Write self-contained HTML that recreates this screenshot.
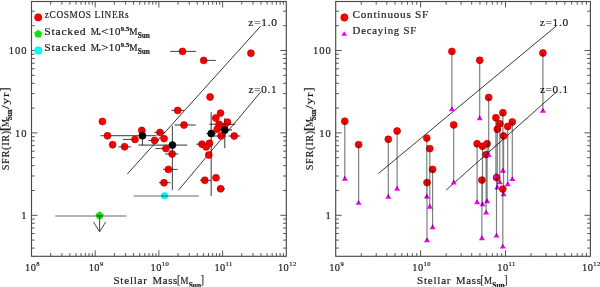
<!DOCTYPE html>
<html><head><meta charset="utf-8"><style>
html,body{margin:0;padding:0;background:#fff;}
body{width:600px;height:287px;overflow:hidden;}
svg{display:block;will-change:transform;}
text{font-family:"Liberation Serif",serif;}
</style></head><body>
<svg width="600" height="287" viewBox="0 0 600 287">
<rect width="600" height="287" fill="#fff"/>
<rect x="31.5" y="1.5" width="254.80" height="254.80" fill="none" stroke="#4a4a4a" stroke-width="1.15"/>
<path d="M50.68 256.3v-3.2M50.68 1.5v3.2M61.89 256.3v-3.2M61.89 1.5v3.2M69.85 256.3v-3.2M69.85 1.5v3.2M76.02 256.3v-3.2M76.02 1.5v3.2M81.07 256.3v-3.2M81.07 1.5v3.2M85.33 256.3v-3.2M85.33 1.5v3.2M89.03 256.3v-3.2M89.03 1.5v3.2M92.29 256.3v-3.2M92.29 1.5v3.2M95.20 256.3v-6M95.20 1.5v6M114.38 256.3v-3.2M114.38 1.5v3.2M125.59 256.3v-3.2M125.59 1.5v3.2M133.55 256.3v-3.2M133.55 1.5v3.2M139.72 256.3v-3.2M139.72 1.5v3.2M144.77 256.3v-3.2M144.77 1.5v3.2M149.03 256.3v-3.2M149.03 1.5v3.2M152.73 256.3v-3.2M152.73 1.5v3.2M155.99 256.3v-3.2M155.99 1.5v3.2M158.90 256.3v-6M158.90 1.5v6M178.08 256.3v-3.2M178.08 1.5v3.2M189.29 256.3v-3.2M189.29 1.5v3.2M197.25 256.3v-3.2M197.25 1.5v3.2M203.42 256.3v-3.2M203.42 1.5v3.2M208.47 256.3v-3.2M208.47 1.5v3.2M212.73 256.3v-3.2M212.73 1.5v3.2M216.43 256.3v-3.2M216.43 1.5v3.2M219.69 256.3v-3.2M219.69 1.5v3.2M222.60 256.3v-6M222.60 1.5v6M241.78 256.3v-3.2M241.78 1.5v3.2M252.99 256.3v-3.2M252.99 1.5v3.2M260.95 256.3v-3.2M260.95 1.5v3.2M267.12 256.3v-3.2M267.12 1.5v3.2M272.17 256.3v-3.2M272.17 1.5v3.2M276.43 256.3v-3.2M276.43 1.5v3.2M280.13 256.3v-3.2M280.13 1.5v3.2M283.39 256.3v-3.2M283.39 1.5v3.2M31.5 248.09h3.2M286.3 248.09h-3.2M31.5 240.10h3.2M286.3 240.10h-3.2M31.5 233.58h3.2M286.3 233.58h-3.2M31.5 228.06h3.2M286.3 228.06h-3.2M31.5 223.29h3.2M286.3 223.29h-3.2M31.5 219.07h3.2M286.3 219.07h-3.2M31.5 215.30h6M286.3 215.30h-6M31.5 190.50h3.2M286.3 190.50h-3.2M31.5 175.99h3.2M286.3 175.99h-3.2M31.5 165.69h3.2M286.3 165.69h-3.2M31.5 157.70h3.2M286.3 157.70h-3.2M31.5 151.18h3.2M286.3 151.18h-3.2M31.5 145.66h3.2M286.3 145.66h-3.2M31.5 140.89h3.2M286.3 140.89h-3.2M31.5 136.67h3.2M286.3 136.67h-3.2M31.5 132.90h6M286.3 132.90h-6M31.5 108.10h3.2M286.3 108.10h-3.2M31.5 93.59h3.2M286.3 93.59h-3.2M31.5 83.29h3.2M286.3 83.29h-3.2M31.5 75.30h3.2M286.3 75.30h-3.2M31.5 68.78h3.2M286.3 68.78h-3.2M31.5 63.26h3.2M286.3 63.26h-3.2M31.5 58.49h3.2M286.3 58.49h-3.2M31.5 54.27h3.2M286.3 54.27h-3.2M31.5 50.50h6M286.3 50.50h-6M31.5 25.70h3.2M286.3 25.70h-3.2M31.5 11.19h3.2M286.3 11.19h-3.2" stroke="#444" stroke-width="0.9" fill="none"/>
<rect x="335.7" y="1.5" width="254.70" height="254.80" fill="none" stroke="#4a4a4a" stroke-width="1.15"/>
<path d="M361.26 256.3v-3.2M361.26 1.5v3.2M376.21 256.3v-3.2M376.21 1.5v3.2M386.81 256.3v-3.2M386.81 1.5v3.2M395.04 256.3v-3.2M395.04 1.5v3.2M401.77 256.3v-3.2M401.77 1.5v3.2M407.45 256.3v-3.2M407.45 1.5v3.2M412.37 256.3v-3.2M412.37 1.5v3.2M416.72 256.3v-3.2M416.72 1.5v3.2M420.60 256.3v-6M420.60 1.5v6M446.16 256.3v-3.2M446.16 1.5v3.2M461.11 256.3v-3.2M461.11 1.5v3.2M471.71 256.3v-3.2M471.71 1.5v3.2M479.94 256.3v-3.2M479.94 1.5v3.2M486.67 256.3v-3.2M486.67 1.5v3.2M492.35 256.3v-3.2M492.35 1.5v3.2M497.27 256.3v-3.2M497.27 1.5v3.2M501.62 256.3v-3.2M501.62 1.5v3.2M505.50 256.3v-6M505.50 1.5v6M531.06 256.3v-3.2M531.06 1.5v3.2M546.01 256.3v-3.2M546.01 1.5v3.2M556.61 256.3v-3.2M556.61 1.5v3.2M564.84 256.3v-3.2M564.84 1.5v3.2M571.57 256.3v-3.2M571.57 1.5v3.2M577.25 256.3v-3.2M577.25 1.5v3.2M582.17 256.3v-3.2M582.17 1.5v3.2M586.52 256.3v-3.2M586.52 1.5v3.2M335.7 248.09h3.2M590.4 248.09h-3.2M335.7 240.10h3.2M590.4 240.10h-3.2M335.7 233.58h3.2M590.4 233.58h-3.2M335.7 228.06h3.2M590.4 228.06h-3.2M335.7 223.29h3.2M590.4 223.29h-3.2M335.7 219.07h3.2M590.4 219.07h-3.2M335.7 215.30h6M590.4 215.30h-6M335.7 190.50h3.2M590.4 190.50h-3.2M335.7 175.99h3.2M590.4 175.99h-3.2M335.7 165.69h3.2M590.4 165.69h-3.2M335.7 157.70h3.2M590.4 157.70h-3.2M335.7 151.18h3.2M590.4 151.18h-3.2M335.7 145.66h3.2M590.4 145.66h-3.2M335.7 140.89h3.2M590.4 140.89h-3.2M335.7 136.67h3.2M590.4 136.67h-3.2M335.7 132.90h6M590.4 132.90h-6M335.7 108.10h3.2M590.4 108.10h-3.2M335.7 93.59h3.2M590.4 93.59h-3.2M335.7 83.29h3.2M590.4 83.29h-3.2M335.7 75.30h3.2M590.4 75.30h-3.2M335.7 68.78h3.2M590.4 68.78h-3.2M335.7 63.26h3.2M590.4 63.26h-3.2M335.7 58.49h3.2M590.4 58.49h-3.2M335.7 54.27h3.2M590.4 54.27h-3.2M335.7 50.50h6M590.4 50.50h-6M335.7 25.70h3.2M590.4 25.70h-3.2M335.7 11.19h3.2M590.4 11.19h-3.2" stroke="#444" stroke-width="0.9" fill="none"/>
<text x="27.4" y="54.1" font-size="10.5" text-anchor="end" font-family="Liberation Serif" fill="#1a1a1a" stroke="#1a1a1a" stroke-width="0.18" letter-spacing="0.95">100</text>
<text x="27.4" y="136.5" font-size="10.5" text-anchor="end" font-family="Liberation Serif" fill="#1a1a1a" stroke="#1a1a1a" stroke-width="0.18" letter-spacing="0.95">10</text>
<text x="27.4" y="218.9" font-size="10.5" text-anchor="end" font-family="Liberation Serif" fill="#1a1a1a" stroke="#1a1a1a" stroke-width="0.18" letter-spacing="0.95">1</text>
<text x="331.59999999999997" y="54.1" font-size="10.5" text-anchor="end" font-family="Liberation Serif" fill="#1a1a1a" stroke="#1a1a1a" stroke-width="0.18" letter-spacing="0.95">100</text>
<text x="331.59999999999997" y="136.5" font-size="10.5" text-anchor="end" font-family="Liberation Serif" fill="#1a1a1a" stroke="#1a1a1a" stroke-width="0.18" letter-spacing="0.95">10</text>
<text x="331.59999999999997" y="218.9" font-size="10.5" text-anchor="end" font-family="Liberation Serif" fill="#1a1a1a" stroke="#1a1a1a" stroke-width="0.18" letter-spacing="0.95">1</text>
<text x="32.50" y="270.7" font-size="10.4" font-family="Liberation Serif" fill="#1a1a1a" stroke="#1a1a1a" stroke-width="0.18" text-anchor="middle" letter-spacing="0.4">10<tspan font-size="6.6" dy="-5">8</tspan></text>
<text x="96.20" y="270.7" font-size="10.4" font-family="Liberation Serif" fill="#1a1a1a" stroke="#1a1a1a" stroke-width="0.18" text-anchor="middle" letter-spacing="0.4">10<tspan font-size="6.6" dy="-5">9</tspan></text>
<text x="159.90" y="270.7" font-size="10.4" font-family="Liberation Serif" fill="#1a1a1a" stroke="#1a1a1a" stroke-width="0.18" text-anchor="middle" letter-spacing="0.4">10<tspan font-size="6.6" dy="-5">10</tspan></text>
<text x="223.60" y="270.7" font-size="10.4" font-family="Liberation Serif" fill="#1a1a1a" stroke="#1a1a1a" stroke-width="0.18" text-anchor="middle" letter-spacing="0.4">10<tspan font-size="6.6" dy="-5">11</tspan></text>
<text x="287.30" y="270.7" font-size="10.4" font-family="Liberation Serif" fill="#1a1a1a" stroke="#1a1a1a" stroke-width="0.18" text-anchor="middle" letter-spacing="0.4">10<tspan font-size="6.6" dy="-5">12</tspan></text>
<text x="336.70" y="270.7" font-size="10.4" font-family="Liberation Serif" fill="#1a1a1a" stroke="#1a1a1a" stroke-width="0.18" text-anchor="middle" letter-spacing="0.4">10<tspan font-size="6.6" dy="-5">9</tspan></text>
<text x="421.60" y="270.7" font-size="10.4" font-family="Liberation Serif" fill="#1a1a1a" stroke="#1a1a1a" stroke-width="0.18" text-anchor="middle" letter-spacing="0.4">10<tspan font-size="6.6" dy="-5">10</tspan></text>
<text x="506.50" y="270.7" font-size="10.4" font-family="Liberation Serif" fill="#1a1a1a" stroke="#1a1a1a" stroke-width="0.18" text-anchor="middle" letter-spacing="0.4">10<tspan font-size="6.6" dy="-5">11</tspan></text>
<text x="591.40" y="270.7" font-size="10.4" font-family="Liberation Serif" fill="#1a1a1a" stroke="#1a1a1a" stroke-width="0.18" text-anchor="middle" letter-spacing="0.4">10<tspan font-size="6.6" dy="-5">12</tspan></text>
<text x="113.45" y="283.60" font-size="10.3" font-family="Liberation Serif" fill="#1a1a1a" stroke="#1a1a1a" stroke-width="0.18" letter-spacing="0.7" textLength="34.28" lengthAdjust="spacingAndGlyphs">Stellar</text>
<text x="152.44" y="283.60" font-size="10.3" font-family="Liberation Serif" fill="#1a1a1a" stroke="#1a1a1a" stroke-width="0.18" letter-spacing="0.7" textLength="25.59" lengthAdjust="spacingAndGlyphs">Mass</text>
<text x="176.97" y="284.40" font-size="12.5" font-family="Liberation Serif" fill="#1a1a1a" stroke="#1a1a1a" stroke-width="0.18" textLength="3.34" lengthAdjust="spacingAndGlyphs">[</text>
<text x="180.49" y="283.60" font-size="10.3" font-family="Liberation Serif" fill="#1a1a1a" stroke="#1a1a1a" stroke-width="0.18" textLength="8.0" lengthAdjust="spacingAndGlyphs">M</text>
<text x="188.75" y="287.60" font-size="7.2" font-family="Liberation Sans" font-weight="bold" fill="#1a1a1a" stroke="#1a1a1a" stroke-width="0.18" textLength="12.37" lengthAdjust="spacingAndGlyphs">Sun</text>
<text x="200.75" y="284.40" font-size="12.5" font-family="Liberation Serif" fill="#1a1a1a" stroke="#1a1a1a" stroke-width="0.18" textLength="3.24" lengthAdjust="spacingAndGlyphs">]</text>
<text x="417.05" y="283.60" font-size="10.3" font-family="Liberation Serif" fill="#1a1a1a" stroke="#1a1a1a" stroke-width="0.18" letter-spacing="0.7" textLength="34.28" lengthAdjust="spacingAndGlyphs">Stellar</text>
<text x="456.04" y="283.60" font-size="10.3" font-family="Liberation Serif" fill="#1a1a1a" stroke="#1a1a1a" stroke-width="0.18" letter-spacing="0.7" textLength="25.59" lengthAdjust="spacingAndGlyphs">Mass</text>
<text x="480.57" y="284.40" font-size="12.5" font-family="Liberation Serif" fill="#1a1a1a" stroke="#1a1a1a" stroke-width="0.18" textLength="3.34" lengthAdjust="spacingAndGlyphs">[</text>
<text x="484.09" y="283.60" font-size="10.3" font-family="Liberation Serif" fill="#1a1a1a" stroke="#1a1a1a" stroke-width="0.18" textLength="8.0" lengthAdjust="spacingAndGlyphs">M</text>
<text x="492.35" y="287.60" font-size="7.2" font-family="Liberation Sans" font-weight="bold" fill="#1a1a1a" stroke="#1a1a1a" stroke-width="0.18" textLength="12.37" lengthAdjust="spacingAndGlyphs">Sun</text>
<text x="504.35" y="284.40" font-size="12.5" font-family="Liberation Serif" fill="#1a1a1a" stroke="#1a1a1a" stroke-width="0.18" textLength="3.24" lengthAdjust="spacingAndGlyphs">]</text>
<g transform="translate(9.0,0) rotate(-90)">
<text x="-170.32" y="0.00" font-size="10.8" font-family="Liberation Serif" fill="#1a1a1a" stroke="#1a1a1a" stroke-width="0.18" letter-spacing="0.7" textLength="40.26" lengthAdjust="spacingAndGlyphs">SFR(IR)</text>
<text x="-131.30" y="0.00" font-size="11.5" font-family="Liberation Serif" fill="#1a1a1a" stroke="#1a1a1a" stroke-width="0.18" textLength="5.23" lengthAdjust="spacingAndGlyphs">[</text>
<text x="-127.12" y="0.00" font-size="10.8" font-family="Liberation Serif" fill="#1a1a1a" stroke="#1a1a1a" stroke-width="0.18" textLength="8.05" lengthAdjust="spacingAndGlyphs">M</text>
<text x="-120.30" y="2.50" font-size="7.2" font-family="Liberation Sans" font-weight="bold" fill="#1a1a1a" stroke="#1a1a1a" stroke-width="0.18" textLength="11.09" lengthAdjust="spacingAndGlyphs">Sun</text>
<text x="-109.08" y="0.00" font-size="10.8" font-family="Liberation Serif" fill="#1a1a1a" stroke="#1a1a1a" stroke-width="0.18" letter-spacing="0.7" textLength="17.42" lengthAdjust="spacingAndGlyphs">/yr</text>
<text x="-91.74" y="0.00" font-size="11.5" font-family="Liberation Serif" fill="#1a1a1a" stroke="#1a1a1a" stroke-width="0.18" textLength="4.51" lengthAdjust="spacingAndGlyphs">]</text>
</g>
<g transform="translate(313.0,0) rotate(-90)">
<text x="-170.32" y="0.00" font-size="10.8" font-family="Liberation Serif" fill="#1a1a1a" stroke="#1a1a1a" stroke-width="0.18" letter-spacing="0.7" textLength="40.26" lengthAdjust="spacingAndGlyphs">SFR(IR)</text>
<text x="-131.30" y="0.00" font-size="11.5" font-family="Liberation Serif" fill="#1a1a1a" stroke="#1a1a1a" stroke-width="0.18" textLength="5.23" lengthAdjust="spacingAndGlyphs">[</text>
<text x="-127.12" y="0.00" font-size="10.8" font-family="Liberation Serif" fill="#1a1a1a" stroke="#1a1a1a" stroke-width="0.18" textLength="8.05" lengthAdjust="spacingAndGlyphs">M</text>
<text x="-120.30" y="2.50" font-size="7.2" font-family="Liberation Sans" font-weight="bold" fill="#1a1a1a" stroke="#1a1a1a" stroke-width="0.18" textLength="11.09" lengthAdjust="spacingAndGlyphs">Sun</text>
<text x="-109.08" y="0.00" font-size="10.8" font-family="Liberation Serif" fill="#1a1a1a" stroke="#1a1a1a" stroke-width="0.18" letter-spacing="0.7" textLength="17.42" lengthAdjust="spacingAndGlyphs">/yr</text>
<text x="-91.74" y="0.00" font-size="11.5" font-family="Liberation Serif" fill="#1a1a1a" stroke="#1a1a1a" stroke-width="0.18" textLength="4.51" lengthAdjust="spacingAndGlyphs">]</text>
</g>
<text x="248.35" y="25.90" font-size="10.8" font-family="Liberation Serif" fill="#1a1a1a" stroke="#1a1a1a" stroke-width="0.18" letter-spacing="0.7" textLength="29.38" lengthAdjust="spacingAndGlyphs">z=1.0</text>
<text x="248.60" y="92.50" font-size="10.8" font-family="Liberation Serif" fill="#1a1a1a" stroke="#1a1a1a" stroke-width="0.18" letter-spacing="0.7" textLength="28.84" lengthAdjust="spacingAndGlyphs">z=0.1</text>
<text x="539.65" y="25.90" font-size="10.8" font-family="Liberation Serif" fill="#1a1a1a" stroke="#1a1a1a" stroke-width="0.18" letter-spacing="0.7" textLength="29.38" lengthAdjust="spacingAndGlyphs">z=1.0</text>
<text x="539.90" y="92.50" font-size="10.8" font-family="Liberation Serif" fill="#1a1a1a" stroke="#1a1a1a" stroke-width="0.18" letter-spacing="0.7" textLength="28.84" lengthAdjust="spacingAndGlyphs">z=0.1</text>
<path d="M127.3 174L260.7 26.1M178.4 190.3L261.1 91.5M378.3 173.6L556.5 25.8M446.2 190L556.4 92" stroke="#222" stroke-width="0.9" fill="none"/>
<path d="M170.3 51.4H196.1M201.5 60.4H215.8M171.4 110.4H184M174.6 125H195.7M118.5 146.8H130.9M122.9 139.4H137.5M148.4 140.5H158.8M154.4 132.4H164.9M155.4 148.6H168M165.4 154.0H178.3M163 169.4H177.5M159 182.7H170.6M209.5 124.3H235.2M212.3 136.0H226M228.4 136.0H240.4M196.2 144.2H206M200 180.3H211M217 188.8H225M100.6 135.7H156.5M142.4 127.5V145.2M138.4 145.1H187.2M172.4 125.9V189.8M206.5 133.5H215.8M211.2 112.2V196.0M218 130.0H232M224.8 118.0V148.2" stroke="rgba(0,0,0,0.63)" stroke-width="1" fill="none"/>
<circle cx="182.5" cy="51.4" r="3.45" fill="#ff0000" stroke="#b00000" stroke-width="0.65"/>
<circle cx="203.7" cy="60.4" r="3.45" fill="#ff0000" stroke="#b00000" stroke-width="0.65"/>
<circle cx="250.9" cy="53.2" r="3.45" fill="#ff0000" stroke="#b00000" stroke-width="0.65"/>
<circle cx="102.4" cy="121.5" r="3.45" fill="#ff0000" stroke="#b00000" stroke-width="0.65"/>
<circle cx="177.7" cy="110.4" r="3.45" fill="#ff0000" stroke="#b00000" stroke-width="0.65"/>
<circle cx="184" cy="125" r="3.45" fill="#ff0000" stroke="#b00000" stroke-width="0.65"/>
<circle cx="107.5" cy="135.8" r="3.45" fill="#ff0000" stroke="#b00000" stroke-width="0.65"/>
<circle cx="112.6" cy="144.7" r="3.45" fill="#ff0000" stroke="#b00000" stroke-width="0.65"/>
<circle cx="124.6" cy="146.8" r="3.45" fill="#ff0000" stroke="#b00000" stroke-width="0.65"/>
<circle cx="135" cy="139.4" r="3.45" fill="#ff0000" stroke="#b00000" stroke-width="0.65"/>
<circle cx="141.8" cy="130.4" r="3.45" fill="#ff0000" stroke="#b00000" stroke-width="0.65"/>
<circle cx="154.6" cy="140.5" r="3.45" fill="#ff0000" stroke="#b00000" stroke-width="0.65"/>
<circle cx="160" cy="132.4" r="3.45" fill="#ff0000" stroke="#b00000" stroke-width="0.65"/>
<circle cx="164.1" cy="138.6" r="3.45" fill="#ff0000" stroke="#b00000" stroke-width="0.65"/>
<circle cx="165.9" cy="148.6" r="3.45" fill="#ff0000" stroke="#b00000" stroke-width="0.65"/>
<circle cx="172.1" cy="154.0" r="3.45" fill="#ff0000" stroke="#b00000" stroke-width="0.65"/>
<circle cx="168.4" cy="169.4" r="3.45" fill="#ff0000" stroke="#b00000" stroke-width="0.65"/>
<circle cx="164" cy="182.7" r="3.45" fill="#ff0000" stroke="#b00000" stroke-width="0.65"/>
<circle cx="210.1" cy="97" r="3.45" fill="#ff0000" stroke="#b00000" stroke-width="0.65"/>
<circle cx="220.5" cy="113.1" r="3.45" fill="#ff0000" stroke="#b00000" stroke-width="0.65"/>
<circle cx="215.8" cy="118" r="3.45" fill="#ff0000" stroke="#b00000" stroke-width="0.65"/>
<circle cx="227.5" cy="122.2" r="3.45" fill="#ff0000" stroke="#b00000" stroke-width="0.65"/>
<circle cx="224.3" cy="126.5" r="3.45" fill="#ff0000" stroke="#b00000" stroke-width="0.65"/>
<circle cx="219" cy="124.3" r="3.45" fill="#ff0000" stroke="#b00000" stroke-width="0.65"/>
<circle cx="217.2" cy="129.3" r="3.45" fill="#ff0000" stroke="#b00000" stroke-width="0.65"/>
<circle cx="221.1" cy="136.0" r="3.45" fill="#ff0000" stroke="#b00000" stroke-width="0.65"/>
<circle cx="234.2" cy="136.0" r="3.45" fill="#ff0000" stroke="#b00000" stroke-width="0.65"/>
<circle cx="202" cy="144.2" r="3.45" fill="#ff0000" stroke="#b00000" stroke-width="0.65"/>
<circle cx="209.5" cy="143.3" r="3.45" fill="#ff0000" stroke="#b00000" stroke-width="0.65"/>
<circle cx="206.2" cy="146.9" r="3.45" fill="#ff0000" stroke="#b00000" stroke-width="0.65"/>
<circle cx="208.8" cy="155" r="3.45" fill="#ff0000" stroke="#b00000" stroke-width="0.65"/>
<circle cx="204.8" cy="180.3" r="3.45" fill="#ff0000" stroke="#b00000" stroke-width="0.65"/>
<circle cx="216" cy="177.8" r="3.45" fill="#ff0000" stroke="#b00000" stroke-width="0.65"/>
<circle cx="220.6" cy="188.8" r="3.45" fill="#ff0000" stroke="#b00000" stroke-width="0.65"/>
<path d="M170.3 51.4H196.1M201.5 60.4H215.8M171.4 110.4H184M174.6 125H195.7M118.5 146.8H130.9M122.9 139.4H137.5M148.4 140.5H158.8M154.4 132.4H164.9M155.4 148.6H168M165.4 154.0H178.3M163 169.4H177.5M159 182.7H170.6M209.5 124.3H235.2M212.3 136.0H226M228.4 136.0H240.4M196.2 144.2H206M200 180.3H211M217 188.8H225M100.6 135.7H156.5M142.4 127.5V145.2M138.4 145.1H187.2M172.4 125.9V189.8M206.5 133.5H215.8M211.2 112.2V196.0M218 130.0H232M224.8 118.0V148.2" stroke="rgba(0,0,0,0.25)" stroke-width="1" fill="none"/>
<circle cx="142.4" cy="135.7" r="3.5" fill="#000" stroke="#000" stroke-width="0.65"/>
<circle cx="172.4" cy="145.1" r="3.5" fill="#000" stroke="#000" stroke-width="0.65"/>
<circle cx="211.2" cy="133.5" r="3.5" fill="#000" stroke="#000" stroke-width="0.65"/>
<circle cx="224.8" cy="130.0" r="3.5" fill="#000" stroke="#000" stroke-width="0.65"/>
<polygon points="99.60,211.60 103.40,214.36 101.95,218.84 97.25,218.84 95.80,214.36" fill="#11dd11" stroke="#11dd11" stroke-width="0.5"/>
<circle cx="164.55" cy="195.7" r="3.3" fill="#00ffff" stroke="#00e8e8" stroke-width="0.65"/>
<path d="M55.3 215.9H126.4M133.6 196H198.8" stroke="rgba(0,0,0,0.4)" stroke-width="1.5" fill="none"/>
<path d="M99.6 215.6V231.8M93.4 221.8L99.6 231.8L105.8 221.8" stroke="#333" stroke-width="0.9" fill="none"/>
<circle cx="38.2" cy="17.4" r="3.6" fill="#ff0000" stroke="#b00000" stroke-width="0.65"/>
<polygon points="38.20,29.90 42.00,32.66 40.55,37.14 35.85,37.14 34.40,32.66" fill="#11dd11" stroke="#11dd11" stroke-width="0.5"/>
<circle cx="38.3" cy="50.5" r="3.8" fill="#00ffff" stroke="#00e8e8" stroke-width="0.65"/>
<text x="44.86" y="18.20" font-size="10.5" font-family="Liberation Serif" fill="#1a1a1a" stroke="#1a1a1a" stroke-width="0.18" letter-spacing="0.7" textLength="84.51" lengthAdjust="spacingAndGlyphs">zCOSMOS LINERs</text>
<text x="44.29" y="34.50" font-size="10.5" font-family="Liberation Serif" fill="#1a1a1a" stroke="#1a1a1a" stroke-width="0.18" letter-spacing="0.7" textLength="42.17" lengthAdjust="spacingAndGlyphs">Stacked</text>
<text x="90.67" y="34.50" font-size="10.5" font-family="Liberation Serif" fill="#1a1a1a" stroke="#1a1a1a" stroke-width="0.18" textLength="8.35" lengthAdjust="spacingAndGlyphs">M</text>
<circle cx="99.7" cy="34.0" r="0.9" fill="#1a1a1a"/>
<text x="101.23" y="34.50" font-size="10.5" font-family="Liberation Serif" fill="#1a1a1a" stroke="#1a1a1a" stroke-width="0.18" textLength="7.33" lengthAdjust="spacingAndGlyphs">&lt;</text>
<text x="108.77" y="34.50" font-size="10.5" font-family="Liberation Serif" fill="#1a1a1a" stroke="#1a1a1a" stroke-width="0.18" letter-spacing="0.7" textLength="12.36" lengthAdjust="spacingAndGlyphs">10</text>
<text x="120.86" y="30.60" font-size="6.3" font-family="Liberation Sans" font-weight="bold" fill="#1a1a1a" stroke="#1a1a1a" stroke-width="0.18" textLength="8.43" lengthAdjust="spacingAndGlyphs">9.5</text>
<text x="129.07" y="34.50" font-size="10.5" font-family="Liberation Serif" fill="#1a1a1a" stroke="#1a1a1a" stroke-width="0.18" textLength="8.57" lengthAdjust="spacingAndGlyphs">M</text>
<text x="137.65" y="37.50" font-size="7.2" font-family="Liberation Sans" font-weight="bold" fill="#1a1a1a" stroke="#1a1a1a" stroke-width="0.18" textLength="12.18" lengthAdjust="spacingAndGlyphs">Sun</text>
<text x="44.29" y="50.50" font-size="10.5" font-family="Liberation Serif" fill="#1a1a1a" stroke="#1a1a1a" stroke-width="0.18" letter-spacing="0.7" textLength="42.17" lengthAdjust="spacingAndGlyphs">Stacked</text>
<text x="90.67" y="50.50" font-size="10.5" font-family="Liberation Serif" fill="#1a1a1a" stroke="#1a1a1a" stroke-width="0.18" textLength="8.35" lengthAdjust="spacingAndGlyphs">M</text>
<circle cx="99.7" cy="50.0" r="0.9" fill="#1a1a1a"/>
<text x="101.21" y="50.50" font-size="10.5" font-family="Liberation Serif" fill="#1a1a1a" stroke="#1a1a1a" stroke-width="0.18" textLength="7.18" lengthAdjust="spacingAndGlyphs">&gt;</text>
<text x="108.77" y="50.50" font-size="10.5" font-family="Liberation Serif" fill="#1a1a1a" stroke="#1a1a1a" stroke-width="0.18" letter-spacing="0.7" textLength="12.36" lengthAdjust="spacingAndGlyphs">10</text>
<text x="120.86" y="46.60" font-size="6.3" font-family="Liberation Sans" font-weight="bold" fill="#1a1a1a" stroke="#1a1a1a" stroke-width="0.18" textLength="8.43" lengthAdjust="spacingAndGlyphs">9.5</text>
<text x="129.07" y="50.50" font-size="10.5" font-family="Liberation Serif" fill="#1a1a1a" stroke="#1a1a1a" stroke-width="0.18" textLength="8.57" lengthAdjust="spacingAndGlyphs">M</text>
<text x="137.65" y="53.50" font-size="7.2" font-family="Liberation Sans" font-weight="bold" fill="#1a1a1a" stroke="#1a1a1a" stroke-width="0.18" textLength="12.18" lengthAdjust="spacingAndGlyphs">Sun</text>
<circle cx="344.8" cy="121.3" r="3.45" fill="#ff0000" stroke="#b00000" stroke-width="0.65"/>
<circle cx="358.6" cy="144.6" r="3.45" fill="#ff0000" stroke="#b00000" stroke-width="0.65"/>
<circle cx="388.3" cy="139.3" r="3.45" fill="#ff0000" stroke="#b00000" stroke-width="0.65"/>
<circle cx="397.1" cy="131.0" r="3.45" fill="#ff0000" stroke="#b00000" stroke-width="0.65"/>
<circle cx="426.8" cy="138.1" r="3.45" fill="#ff0000" stroke="#b00000" stroke-width="0.65"/>
<circle cx="429.8" cy="148.6" r="3.45" fill="#ff0000" stroke="#b00000" stroke-width="0.65"/>
<circle cx="432.6" cy="169.4" r="3.45" fill="#ff0000" stroke="#b00000" stroke-width="0.65"/>
<circle cx="427.0" cy="182.6" r="3.45" fill="#ff0000" stroke="#b00000" stroke-width="0.65"/>
<circle cx="451.9" cy="51.4" r="3.45" fill="#ff0000" stroke="#b00000" stroke-width="0.65"/>
<circle cx="453.7" cy="124.9" r="3.45" fill="#ff0000" stroke="#b00000" stroke-width="0.65"/>
<circle cx="479.7" cy="60.3" r="3.45" fill="#ff0000" stroke="#b00000" stroke-width="0.65"/>
<circle cx="488.7" cy="97.5" r="3.45" fill="#ff0000" stroke="#b00000" stroke-width="0.65"/>
<circle cx="542.9" cy="53.0" r="3.45" fill="#ff0000" stroke="#b00000" stroke-width="0.65"/>
<circle cx="477.1" cy="143.8" r="3.45" fill="#ff0000" stroke="#b00000" stroke-width="0.65"/>
<circle cx="482.5" cy="146.3" r="3.45" fill="#ff0000" stroke="#b00000" stroke-width="0.65"/>
<circle cx="487.1" cy="143.8" r="3.45" fill="#ff0000" stroke="#b00000" stroke-width="0.65"/>
<circle cx="486.1" cy="154.6" r="3.45" fill="#ff0000" stroke="#b00000" stroke-width="0.65"/>
<circle cx="481.9" cy="180.1" r="3.45" fill="#ff0000" stroke="#b00000" stroke-width="0.65"/>
<circle cx="496.5" cy="177.6" r="3.45" fill="#ff0000" stroke="#b00000" stroke-width="0.65"/>
<circle cx="502.8" cy="189.1" r="3.45" fill="#ff0000" stroke="#b00000" stroke-width="0.65"/>
<circle cx="502.9" cy="112.8" r="3.45" fill="#ff0000" stroke="#b00000" stroke-width="0.65"/>
<circle cx="512.3" cy="122.0" r="3.45" fill="#ff0000" stroke="#b00000" stroke-width="0.65"/>
<circle cx="499.8" cy="123.7" r="3.45" fill="#ff0000" stroke="#b00000" stroke-width="0.65"/>
<circle cx="507.7" cy="126.5" r="3.45" fill="#ff0000" stroke="#b00000" stroke-width="0.65"/>
<circle cx="497.3" cy="129.2" r="3.45" fill="#ff0000" stroke="#b00000" stroke-width="0.65"/>
<circle cx="503.6" cy="135.9" r="3.45" fill="#ff0000" stroke="#b00000" stroke-width="0.65"/>
<circle cx="495.9" cy="117.8" r="3.45" fill="#ff0000" stroke="#b00000" stroke-width="0.65"/>
<polygon points="341.80,180.66 347.80,180.66 344.80,175.74" fill="#ee00ee"/>
<polygon points="355.60,204.86 361.60,204.86 358.60,199.94" fill="#ee00ee"/>
<polygon points="385.30,198.76 391.30,198.76 388.30,193.84" fill="#ee00ee"/>
<polygon points="394.10,190.76 400.10,190.76 397.10,185.84" fill="#ee00ee"/>
<polygon points="423.80,198.46 429.80,198.46 426.80,193.54" fill="#ee00ee"/>
<polygon points="426.80,208.76 432.80,208.76 429.80,203.84" fill="#ee00ee"/>
<polygon points="429.60,229.26 435.60,229.26 432.60,224.34" fill="#ee00ee"/>
<polygon points="424.00,242.16 430.00,242.16 427.00,237.24" fill="#ee00ee"/>
<polygon points="448.90,111.26 454.90,111.26 451.90,106.34" fill="#ee00ee"/>
<polygon points="450.70,184.46 456.70,184.46 453.70,179.54" fill="#ee00ee"/>
<polygon points="476.70,120.16 482.70,120.16 479.70,115.24" fill="#ee00ee"/>
<polygon points="485.70,157.06 491.70,157.06 488.70,152.14" fill="#ee00ee"/>
<polygon points="539.90,112.66 545.90,112.66 542.90,107.74" fill="#ee00ee"/>
<polygon points="474.10,204.16 480.10,204.16 477.10,199.24" fill="#ee00ee"/>
<polygon points="479.50,206.26 485.50,206.26 482.50,201.34" fill="#ee00ee"/>
<polygon points="484.10,203.26 490.10,203.26 487.10,198.34" fill="#ee00ee"/>
<polygon points="483.10,214.56 489.10,214.56 486.10,209.64" fill="#ee00ee"/>
<polygon points="478.90,240.26 484.90,240.26 481.90,235.34" fill="#ee00ee"/>
<polygon points="493.50,237.56 499.50,237.56 496.50,232.64" fill="#ee00ee"/>
<polygon points="499.80,248.56 505.80,248.56 502.80,243.64" fill="#ee00ee"/>
<polygon points="499.90,172.76 505.90,172.76 502.90,167.84" fill="#ee00ee"/>
<polygon points="509.30,181.06 515.30,181.06 512.30,176.14" fill="#ee00ee"/>
<polygon points="496.80,184.26 502.80,184.26 499.80,179.34" fill="#ee00ee"/>
<polygon points="504.70,186.26 510.70,186.26 507.70,181.34" fill="#ee00ee"/>
<polygon points="494.30,189.46 500.30,189.46 497.30,184.54" fill="#ee00ee"/>
<polygon points="500.60,196.36 506.60,196.36 503.60,191.44" fill="#ee00ee"/>
<polygon points="492.90,177.76 498.90,177.76 495.90,172.84" fill="#ee00ee"/>
<path d="M344.8 121.3V178.2M358.6 144.6V202.4M388.3 139.3V196.3M397.1 131.0V188.3M426.8 138.1V196.0M429.8 148.6V206.3M432.6 169.4V226.8M427.0 182.6V239.7M451.9 51.4V108.8M453.7 124.9V182.0M479.7 60.3V117.7M488.7 97.5V154.6M542.9 53.0V110.2M477.1 143.8V201.7M482.5 146.3V203.8M487.1 143.8V200.8M486.1 154.6V212.1M481.9 180.1V237.8M496.5 177.6V235.1M502.8 189.1V246.1M502.9 112.8V170.3M512.3 122.0V178.6M499.8 123.7V181.8M507.7 126.5V183.8M497.3 129.2V187.0M503.6 135.9V193.9M495.9 117.8V175.3" stroke="rgba(0,0,0,0.5)" stroke-width="1.2" fill="none"/>
<circle cx="344.4" cy="17.5" r="3.65" fill="#ff0000" stroke="#b00000" stroke-width="0.65"/>
<polygon points="341.35,35.84 347.05,35.84 344.20,31.16" fill="#ee00ee"/>
<text x="352.51" y="18.10" font-size="10.5" font-family="Liberation Serif" fill="#1a1a1a" stroke="#1a1a1a" stroke-width="0.18" letter-spacing="0.7" textLength="76.54" lengthAdjust="spacingAndGlyphs">Continuous SF</text>
<text x="352.64" y="34.20" font-size="10.5" font-family="Liberation Serif" fill="#1a1a1a" stroke="#1a1a1a" stroke-width="0.18" letter-spacing="0.7" textLength="64.28" lengthAdjust="spacingAndGlyphs">Decaying SF</text>
</svg>
</body></html>
